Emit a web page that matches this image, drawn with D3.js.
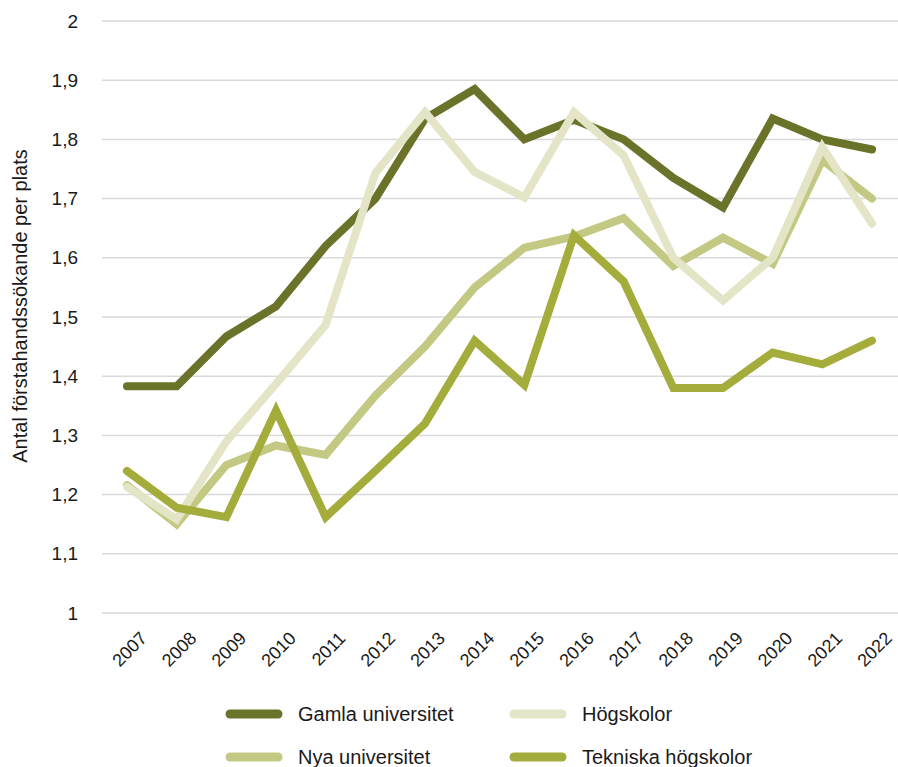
<!DOCTYPE html>
<html>
<head>
<meta charset="utf-8">
<script src="https://cdn.jsdelivr.net/npm/d3@7"></script>
<style>
  body { margin: 0; background: #fff; }
  text { font-family: "Liberation Sans", Arial, sans-serif; fill: #1a1a1a; }
</style>
</head>
<body>
<div id="chart"></div>
<script>
// data
const years = [2007, 2008, 2009, 2010, 2011, 2012, 2013, 2014, 2015, 2016, 2017, 2018, 2019, 2020, 2021, 2022]
const gamla = [1.383, 1.383, 1.467, 1.518, 1.62, 1.70, 1.835, 1.885, 1.80, 1.833, 1.80, 1.735, 1.685, 1.835, 1.80, 1.783]
const hogskolor = [1.213, 1.158, 1.29, 1.387, 1.487, 1.743, 1.846, 1.745, 1.702, 1.846, 1.773, 1.60, 1.528, 1.60, 1.787, 1.658]
const nya = [1.216, 1.15, 1.25, 1.283, 1.267, 1.367, 1.45, 1.55, 1.617, 1.636, 1.667, 1.586, 1.634, 1.59, 1.765, 1.70]
const tekniska = [1.24, 1.178, 1.162, 1.342, 1.162, 1.24, 1.32, 1.46, 1.385, 1.638, 1.56, 1.38, 1.38, 1.44, 1.42, 1.46]
const yTicks = [1, 1.1, 1.2, 1.3, 1.4, 1.5, 1.6, 1.7, 1.8, 1.9, 2]

const seriesNames = ["Gamla universitet", "Högskolor", "Nya universitet", "Tekniska högskolor"]
const seriesColors = ["#6b722a", "#e3e5c6", "#c3c982", "#a4ac3c"]

const width = 898, height = 767

let svg = d3.select("#chart").append("svg")
    .attr("width", width)
    .attr("height", height)

let xScale = d3.scalePoint()
    .domain(years)
    .range([127, 872])

let yScale = d3.scaleLinear()
    .domain([1, 2])
    .range([613, 21])

// gridlines
svg.append("g")
    .selectAll("line")
    .data(yTicks).enter()
    .append("line")
    .attr("x1", 102)
    .attr("x2", width)
    .attr("y1", d => yScale(d))
    .attr("y2", d => yScale(d))
    .attr("stroke", "#d9d9d9")
    .attr("stroke-width", 1.5)

// y axis tick labels
let yAxis = d3.axisLeft(yScale)
    .tickValues(yTicks)
    .tickSize(0)
    .tickPadding(0)
    .tickFormat(d => d3.format(".1~f")(d).replace(".", ","))

let gy = svg.append("g")
    .attr("transform", "translate(78,0)")
    .call(yAxis)
gy.select(".domain").remove()
gy.selectAll("text")
    .style("font-size", "19px")
    .style("font-family", "Liberation Sans, Arial, sans-serif")
    .attr("fill", "#1a1a1a")

// x axis tick labels, rotated
let xAxis = d3.axisBottom(xScale).tickSize(0).tickPadding(0)
let gx = svg.append("g")
    .attr("transform", "translate(0,625)")
    .call(xAxis)
gx.select(".domain").remove()
gx.selectAll("text")
    .style("font-size", "18px")
    .style("font-family", "Liberation Sans, Arial, sans-serif")
    .attr("fill", "#1a1a1a")
    .attr("text-anchor", "end")
    .attr("dy", "0.35em")
    .attr("transform", "translate(16,10) rotate(-45)")

// y axis title
svg.append("text")
    .attr("transform", "translate(27,306) rotate(-90)")
    .attr("text-anchor", "middle")
    .style("font-size", "20px")
    .text("Antal förstahandssökande per plats")

// lines
let line = d3.line()
    .x((d, i) => xScale(years[i]))
    .y(d => yScale(d))

const drawOrder = [
    { values: gamla, color: seriesColors[0] },
    { values: nya, color: seriesColors[2] },
    { values: hogskolor, color: seriesColors[1] },
    { values: tekniska, color: seriesColors[3] }
]

svg.append("g")
    .selectAll("path")
    .data(drawOrder).enter()
    .append("path")
    .attr("d", d => line(d.values))
    .attr("fill", "none")
    .attr("stroke", d => d.color)
    .attr("stroke-width", 8)
    .attr("stroke-linecap", "round")
    .attr("stroke-linejoin", "miter")

// legend
const legendPos = [[230, 714], [514, 714], [230, 757], [514, 757]]
const legendOrder = [0, 1, 2, 3]

let legend = svg.append("g")
    .selectAll("g")
    .data(legendOrder).enter()
    .append("g")
    .attr("transform", (d, i) => `translate(${legendPos[i][0]},${legendPos[i][1]})`)

legend.append("line")
    .attr("x1", 0)
    .attr("x2", 48)
    .attr("y1", 0)
    .attr("y2", 0)
    .attr("stroke", d => seriesColors[d])
    .attr("stroke-width", 9)
    .attr("stroke-linecap", "round")

legend.append("text")
    .attr("x", 68)
    .attr("y", 0)
    .attr("dy", "0.35em")
    .style("font-size", "20px")
    .text(d => seriesNames[d])
</script>
</body>
</html>
